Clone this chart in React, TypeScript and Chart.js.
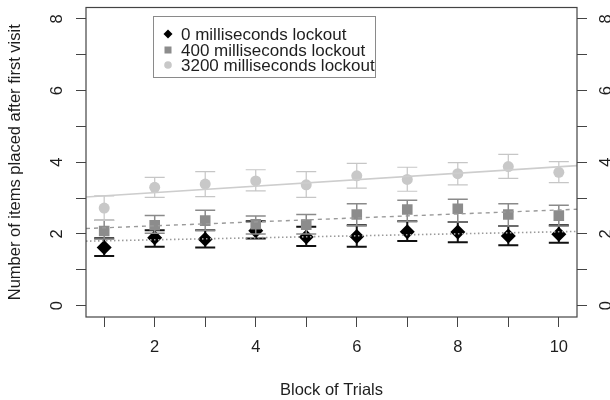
import React, { useEffect, useRef } from 'react';
import { Chart, registerables } from 'chart.js';

Chart.register(...registerables);

// ---- data ----
const blocks = [1, 2, 3, 4, 5, 6, 7, 8, 9, 10];

const mean3200 = [2.72, 3.30, 3.39, 3.48, 3.37, 3.62, 3.52, 3.68, 3.88, 3.72];
const lo3200 = [2.38, 3.02, 3.04, 3.20, 3.02, 3.28, 3.19, 3.37, 3.55, 3.43];
const hi3200 = [3.06, 3.58, 3.74, 3.79, 3.74, 3.97, 3.86, 3.99, 4.22, 4.02];

const mean400 = [2.08, 2.24, 2.37, 2.27, 2.26, 2.54, 2.68, 2.70, 2.54, 2.51];
const lo400 = [1.86, 2.02, 2.10, 2.00, 2.00, 2.23, 2.35, 2.33, 2.22, 2.22];
const hi400 = [2.38, 2.51, 2.66, 2.50, 2.54, 2.84, 2.94, 2.97, 2.84, 2.80];

const mean0 = [1.62, 1.89, 1.85, 2.09, 1.91, 1.93, 2.06, 2.05, 1.94, 1.99];
const lo0 = [1.38, 1.64, 1.62, 1.87, 1.66, 1.64, 1.80, 1.77, 1.68, 1.75];
const hi0 = [1.88, 2.10, 2.10, 2.35, 2.20, 2.24, 2.35, 2.33, 2.22, 2.24];

const legendLabels = ['0 milliseconds lockout', '400 milliseconds lockout', '3200 milliseconds lockout'];
const yTickValues = [0, 2, 4, 6, 8];
const xTitle = 'Block of Trials';
const yTitle = 'Number of items placed after first visit';

const X_MIN = 0.64;
const X_MAX = 10.36;
const Y_MIN = -0.32;
const Y_MAX = 8.32;

const FONT = "'Liberation Sans', Arial, Helvetica, sans-serif";
const TEXT = '#1e1e1e';
const AXIS = '#444';

function linFit(xs: number[], ys: number[]) {
  const n = xs.length;
  const mx = xs.reduce((a, b) => a + b, 0) / n;
  const my = ys.reduce((a, b) => a + b, 0) / n;
  let sxy = 0;
  let sxx = 0;
  for (let i = 0; i < n; i++) {
    sxy += (xs[i] - mx) * (ys[i] - my);
    sxx += (xs[i] - mx) * (xs[i] - mx);
  }
  const b = sxy / sxx;
  const a = my - b * mx;
  return [
    { x: X_MIN, y: a + b * X_MIN },
    { x: X_MAX, y: a + b * X_MAX },
  ];
}

const toPts = (m: number[]) => blocks.map((b, i) => ({ x: b, y: m[i] }));

// error bars per dataset index
const errorBars: Record<number, { lo: number[]; hi: number[]; color: string; width: number }> = {
  3: { lo: lo3200, hi: hi3200, color: '#c6c6c6', width: 1.2 },
  4: { lo: lo400, hi: hi400, color: '#8a8a8a', width: 1.5 },
  5: { lo: lo0, hi: hi0, color: '#111', width: 2 },
};

const errorBarPlugin = {
  id: 'errorBars',
  beforeDatasetDraw(chart: any, args: any) {
    const eb = errorBars[args.index];
    if (!eb) return;
    const { ctx } = chart;
    const xs = chart.scales.x;
    const ys = chart.scales.y;
    ctx.save();
    ctx.strokeStyle = eb.color;
    ctx.lineWidth = eb.width;
    const half = 10;
    blocks.forEach((b, i) => {
      const px = xs.getPixelForValue(b);
      const pl = ys.getPixelForValue(eb.lo[i]);
      const ph = ys.getPixelForValue(eb.hi[i]);
      ctx.beginPath();
      ctx.moveTo(px, pl);
      ctx.lineTo(px, ph);
      ctx.moveTo(px - half, pl);
      ctx.lineTo(px + half, pl);
      ctx.moveTo(px - half, ph);
      ctx.lineTo(px + half, ph);
      ctx.stroke();
    });
    ctx.restore();
  },
};

const decorPlugin = {
  id: 'decor',
  afterDraw(chart: any) {
    const { ctx, chartArea } = chart;
    const ys = chart.scales.y;
    ctx.save();
    // box
    ctx.strokeStyle = AXIS;
    ctx.lineWidth = 1.2;
    ctx.strokeRect(chartArea.left, chartArea.top, chartArea.right - chartArea.left, chartArea.bottom - chartArea.top);

    // y tick labels (rotated, both sides)
    ctx.fillStyle = TEXT;
    ctx.font = `16.5px ${FONT}`;
    ctx.textAlign = 'center';
    ctx.textBaseline = 'middle';
    yTickValues.forEach((v) => {
      const py = ys.getPixelForValue(v);
      [chartArea.left - 29, chartArea.right + 29].forEach((px) => {
        ctx.save();
        ctx.translate(px, py);
        ctx.rotate(-Math.PI / 2);
        ctx.fillText(String(v), 0, 0);
        ctx.restore();
      });
    });

    // axis titles
    ctx.font = `16.5px ${FONT}`;
    ctx.fillText(xTitle, (chartArea.left + chartArea.right) / 2, 390);
    ctx.save();
    ctx.translate(15, (chartArea.top + chartArea.bottom) / 2);
    ctx.rotate(-Math.PI / 2);
    ctx.fillText(yTitle, 0, 0);
    ctx.restore();

    // legend
    const lx = 153.5;
    const ly = 16.5;
    ctx.strokeStyle = '#8a8a8a';
    ctx.lineWidth = 1;
    ctx.strokeRect(lx, ly, 222, 61);
    const rows = [34, 50, 65];
    const mx = 168;
    // diamond
    ctx.fillStyle = '#000';
    ctx.beginPath();
    ctx.moveTo(mx, rows[0] - 4.5);
    ctx.lineTo(mx + 4.5, rows[0]);
    ctx.lineTo(mx, rows[0] + 4.5);
    ctx.lineTo(mx - 4.5, rows[0]);
    ctx.closePath();
    ctx.fill();
    // square
    ctx.fillStyle = '#8c8c8c';
    ctx.fillRect(mx - 3.5, rows[1] - 3.5, 7, 7);
    // circle
    ctx.fillStyle = '#c8c8c8';
    ctx.beginPath();
    ctx.arc(mx, rows[2], 3.8, 0, Math.PI * 2);
    ctx.fill();
    ctx.fillStyle = TEXT;
    ctx.font = `17px ${FONT}`;
    ctx.textAlign = 'left';
    legendLabels.forEach((t, i) => ctx.fillText(t, 181, rows[i] + 1));
    ctx.restore();
  },
};

export default function App() {
  const ref = useRef<HTMLCanvasElement | null>(null);

  useEffect(() => {
    if (!ref.current) return;
    const chart = new Chart(ref.current, {
      type: 'scatter',
      data: {
        datasets: [
          {
            type: 'line',
            data: linFit(blocks, mean3200),
            borderColor: '#cdcdcd',
            borderWidth: 1.6,
            pointRadius: 0,
            showLine: true,
          } as any,
          {
            type: 'line',
            data: linFit(blocks, mean400),
            borderColor: '#9a9a9a',
            borderWidth: 1.4,
            borderDash: [4, 4],
            pointRadius: 0,
            showLine: true,
          } as any,
          {
            type: 'line',
            data: linFit(blocks, mean0),
            borderColor: '#9a9a9a',
            borderWidth: 1.6,
            borderDash: [1.5, 2.5],
            pointRadius: 0,
            showLine: true,
          } as any,
          {
            data: toPts(mean3200),
            pointStyle: 'circle',
            pointRadius: 5.5,
            backgroundColor: '#c8c8c8',
            borderWidth: 0,
          },
          {
            data: toPts(mean400),
            pointStyle: 'rect',
            pointRadius: 7.5,
            backgroundColor: '#8c8c8c',
            borderWidth: 0,
          },
          {
            data: toPts(mean0),
            pointStyle: 'rectRot',
            pointRadius: 7.5,
            backgroundColor: '#000',
            borderWidth: 0,
          },
        ],
      },
      options: {
        responsive: false,
        animation: false,
        layout: { padding: { top: 5, left: 0, right: 0, bottom: 0 } },
        plugins: {
          legend: { display: false },
          tooltip: { enabled: false },
        },
        scales: {
          x: {
            type: 'linear',
            position: 'bottom',
            min: X_MIN,
            max: X_MAX,
            afterFit: (s: any) => {
              s.height = 83;
            },
            ticks: {
              stepSize: 1,
              includeBounds: false,
              autoSkip: false,
              maxRotation: 0,
              minRotation: 0,
              padding: 11,
              color: TEXT,
              font: { family: FONT, size: 16.5 },
              callback: (v: any) => (Number(v) % 2 === 0 ? String(v) : ''),
            },
            grid: { drawOnChartArea: false, tickLength: 10, tickColor: AXIS, tickWidth: 1 },
            border: { display: false },
          },
          y: {
            type: 'linear',
            position: 'left',
            min: Y_MIN,
            max: Y_MAX,
            afterFit: (s: any) => {
              s.width = 86;
            },
            ticks: { stepSize: 1, includeBounds: false, display: false },
            grid: { drawOnChartArea: false, tickLength: 10, tickColor: AXIS, tickWidth: 1 },
            border: { display: false },
          },
          y2: {
            type: 'linear',
            position: 'right',
            min: Y_MIN,
            max: Y_MAX,
            afterFit: (s: any) => {
              s.width = 33;
            },
            ticks: { stepSize: 1, includeBounds: false, display: false },
            grid: { drawOnChartArea: false, tickLength: 10, tickColor: AXIS, tickWidth: 1 },
            border: { display: false },
          },
        },
      },
      plugins: [errorBarPlugin, decorPlugin],
    });
    return () => chart.destroy();
  }, []);

  return (
    <div style={{ position: 'fixed', left: 0, top: 0, width: 610, height: 400, background: '#fff' }}>
      <canvas ref={ref} width={610} height={400} style={{ display: 'block' }} />
    </div>
  );
}
